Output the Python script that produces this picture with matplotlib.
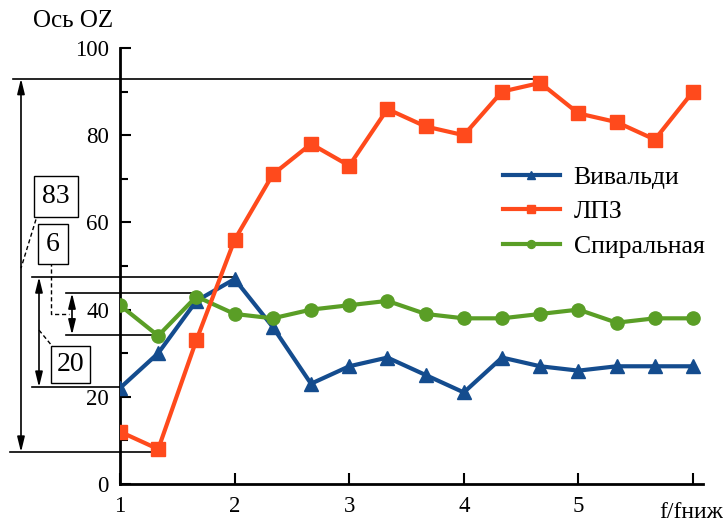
import matplotlib
matplotlib.use("Agg")
import matplotlib.pyplot as plt
from matplotlib.ticker import MultipleLocator

plt.rcParams['font.family'] = ['Liberation Serif', 'DejaVu Serif']

# ---- data ----
x = [1, 4/3, 5/3, 2, 7/3, 8/3, 3, 10/3, 11/3, 4, 13/3, 14/3, 5, 16/3, 17/3, 6]
vivaldi = [22, 30, 42, 47, 36, 23, 27, 29, 25, 21, 29, 27, 26, 27, 27, 27]
lpz = [12, 8, 33, 56, 71, 78, 73, 86, 82, 80, 90, 92, 85, 83, 79, 90]
spiral = [41, 34, 43, 39, 38, 40, 41, 42, 39, 38, 38, 39, 40, 37, 38, 38]
series_names = ['Вивальди', 'ЛПЗ', 'Спиральная']
xticks = [1, 2, 3, 4, 5, 6]
xticklabels = ['1', '2', '3', '4', '5', '']
yticks = [0, 20, 40, 60, 80, 100]
ylabel = 'Ось OZ'
xlabel = 'f/fниж'
# annotation levels (ranges)
ann83 = (93.0, 7.3, '83')
ann20 = (47.5, 22.2, '20')
ann6 = (43.8, 34.2, '6')

c_blue = '#144c8e'
c_red = '#ff4a1c'
c_green = '#5a9e26'

fig = plt.figure(figsize=(7.28, 5.26), dpi=100)
ax = fig.add_axes([120/728, 1-484/526, (703-120)/728, (484-48)/526])

ax.plot(x, vivaldi, color=c_blue, lw=3, marker='^', ms=10, label=series_names[0], zorder=3)
ax.plot(x, lpz, color=c_red, lw=3, marker='s', ms=9.5, label=series_names[1], zorder=4)
ax.plot(x, spiral, color=c_green, lw=3, marker='o', ms=9.5, label=series_names[2], zorder=3)

ax.set_xlim(1, 6.087)
ax.set_ylim(0, 100)
for s in ['top', 'right']:
    ax.spines[s].set_visible(False)
for s in ['left', 'bottom']:
    ax.spines[s].set_linewidth(2)
ax.set_xticks(xticks)
ax.set_xticklabels(xticklabels)
ax.set_yticks(yticks)
ax.yaxis.set_minor_locator(MultipleLocator(10))
ax.tick_params(axis='both', which='major', direction='in', length=8, width=1.5,
               labelsize=16.5, pad=8)
ax.tick_params(axis='y', which='minor', direction='in', length=6, width=1.5)
ax.tick_params(axis='x', which='major', pad=9)

fig.text(33/728, 1-21/526, ylabel, fontsize=18, va='center', ha='left')
fig.text(723/728, 1-513/526, xlabel, fontsize=17, va='center', ha='right')

leg = ax.legend(loc='upper left', bbox_to_anchor=((503-120)/583, 1-(166-48)/436),
                frameon=False, fontsize=18.5, handlelength=2.2, handletextpad=0.55,
                labelspacing=0.44, markerscale=0.6, borderaxespad=0, borderpad=0)

def px2x(p):
    return 1 + (p - 120) / 114.6

kw_line = dict(color='black', lw=1.2, clip_on=False, zorder=2)
arrow_style = dict(arrowstyle='<|-|>,head_length=0.9,head_width=0.22', color='black', lw=1.2,
                   shrinkA=0, shrinkB=0)
box = dict(boxstyle='square,pad=0.22', fc='white', ec='black', lw=1)

# 83 range
top, bot, t = ann83
ax.plot([px2x(13), x[11]], [top, top], **kw_line)
ax.plot([px2x(10), x[1]], [bot, bot], **kw_line)
ax.annotate('', xy=(px2x(21), top), xytext=(px2x(21), bot), arrowprops=arrow_style,
            annotation_clip=False)
ax.text(px2x(56), 66.0, t, fontsize=20, ha='center', va='center',
        bbox=dict(boxstyle='square,pad=0.28', fc='white', ec='black', lw=1), clip_on=False)
ax.plot([px2x(38), px2x(21)], [62.2, 49.5], color='black', lw=1, ls='--', clip_on=False,
        dashes=(3, 2))

# 20 range
top, bot, t = ann20
ax.plot([px2x(32), x[3]], [top, top], **kw_line)
ax.plot([px2x(32), x[0]], [bot, bot], **kw_line)
ax.annotate('', xy=(px2x(39), top), xytext=(px2x(39), bot), arrowprops=arrow_style,
            annotation_clip=False)
ax.text(px2x(70.5), 27.4, t, fontsize=20, ha='center', va='center', bbox=box, clip_on=False)
ax.plot([px2x(39), px2x(53)], [35.3, 31.4], color='black', lw=1, ls='--', clip_on=False,
        dashes=(3, 2))

# 6 range
top, bot, t = ann6
ax.plot([px2x(66), x[2]], [top, top], **kw_line)
ax.plot([px2x(66), x[1]], [bot, bot], **kw_line)
ax.annotate('', xy=(px2x(72), top), xytext=(px2x(72), bot), arrowprops=arrow_style,
            annotation_clip=False)
ax.text(px2x(53), 55.0, t, fontsize=20, ha='center', va='center',
        bbox=dict(boxstyle='square,pad=0.28', fc='white', ec='black', lw=1), clip_on=False)
ax.plot([px2x(51), px2x(51), px2x(69)], [51.0, 39.0, 39.0], color='black', lw=1, ls='--',
        clip_on=False, dashes=(3, 2))

fig.savefig('out.png', dpi=100)
